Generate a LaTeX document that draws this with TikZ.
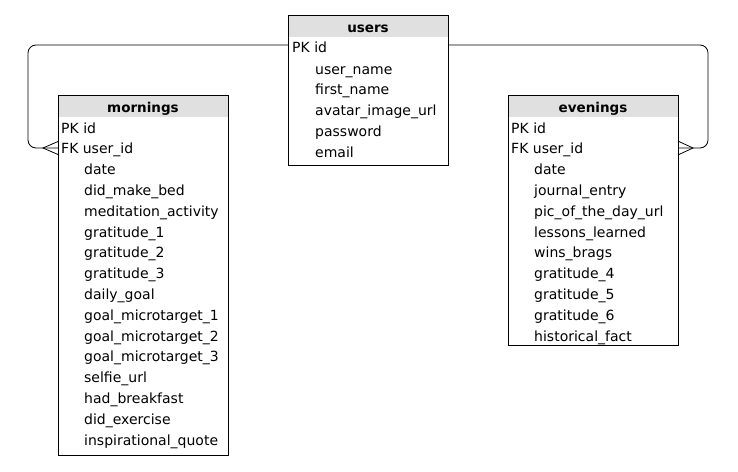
\documentclass[tikz,border=0pt]{standalone}
\usepackage{fontspec}
\setmainfont{DejaVu Sans}
\begin{document}
\begin{tikzpicture}[x=1pt,y=-1pt,
  tbl/.style={draw=black,line width=0.9pt,fill=white,inner sep=0pt,anchor=north west},
  hdr/.style={fill=black!12,draw=none,inner sep=0pt,anchor=north west},
  title/.style={font=\fontsize{13.5}{15}\selectfont\bfseries,inner sep=0pt,anchor=base},
  fld/.style={font=\fontsize{14}{16}\selectfont,inner sep=0pt,anchor=base west},
  conn/.style={draw=black,line width=0.8pt,rounded corners=8pt},
  crow/.style={draw=black,line width=0.8pt}]
\useasboundingbox (0,0) rectangle (738,471);
% users
\node[tbl,minimum width=160pt,minimum height=150pt] (users) at (288,15) {};
\node[hdr,minimum width=159pt,minimum height=21pt] (usersh) at (288.5,15.5) {};
\node[title] (userst) at (368,32) {users};
\node[fld] (u1) at (292,52) {PK id};
\node[fld] (u2) at (315,74) {user\_name};
\node[fld] (u3) at (315,94) {first\_name};
\node[fld] (u4) at (315,115) {avatar\_image\_url};
\node[fld] (u5) at (315,136) {password};
\node[fld] (u6) at (315,157) {email};
\draw[draw=black,line width=0.9pt] (288,15) rectangle (448,165);
% mornings
\node[tbl,minimum width=170pt,minimum height=360pt] (mornings) at (58,95) {};
\node[hdr,minimum width=169pt,minimum height=21pt] (morningsh) at (58.5,95.5) {};
\node[title] (morningst) at (143,112) {mornings};
\foreach \t [count=\i from 0] in {PK id,FK user\_id}
  \node[fld] (m\i) at (61,{133+20.8*\i}) {\t};
\foreach \t [count=\i from 2] in {date,did\_make\_bed,meditation\_activity,gratitude\_1,gratitude\_2,gratitude\_3,daily\_goal,goal\_microtarget\_1,goal\_microtarget\_2,goal\_microtarget\_3,selfie\_url,had\_breakfast,did\_exercise,inspirational\_quote}
  \node[fld] (m\i) at (84,{133+20.8*\i}) {\t};
\draw[draw=black,line width=0.9pt] (58,95) rectangle (228,455);
% evenings
\node[tbl,minimum width=170pt,minimum height=250pt] (evenings) at (508,95) {};
\node[hdr,minimum width=169pt,minimum height=21pt] (eveningsh) at (508.5,95.5) {};
\node[title] (eveningst) at (593,112) {evenings};
\foreach \t [count=\i from 0] in {PK id,FK user\_id}
  \node[fld] (e\i) at (511,{133+20.8*\i}) {\t};
\foreach \t [count=\i from 2] in {date,journal\_entry,pic\_of\_the\_day\_url,lessons\_learned,wins\_brags,gratitude\_4,gratitude\_5,gratitude\_6,historical\_fact}
  \node[fld] (e\i) at (534,{133+20.8*\i}) {\t};
\draw[draw=black,line width=0.9pt] (508,95) rectangle (678,345);
% connectors
\coordinate (ul) at (users.west |- 0,45);
\coordinate (ur) at (users.east |- 0,45);
\coordinate (ml) at (mornings.west |- 0,148);
\coordinate (er) at (evenings.east |- 0,148);
\draw[conn] (ul) -- (28,45) -- (28,148) -- (ml);
\draw[conn] (ur) -- (708,45) -- (708,148) -- (er);
\draw[crow] ([yshift=-6.5pt]ml) -- (43,148) -- ([yshift=6.5pt]ml);
\draw[crow] ([yshift=-6.5pt]er) -- (693,148) -- ([yshift=6.5pt]er);
\end{tikzpicture}
\end{document}
